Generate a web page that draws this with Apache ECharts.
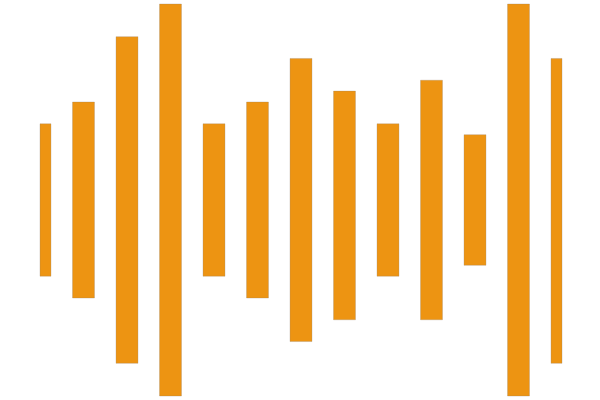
<!DOCTYPE html>
<html>
<head>
<meta charset="utf-8">
<script src="https://cdn.jsdelivr.net/npm/echarts@6/dist/echarts.min.js"></script>
<style>html,body{margin:0;padding:0;background:#fff}#c{width:600px;height:400px}</style>
</head>
<body>
<div id="c"></div>
<script>
const categories = ['1','2','3','4','5','6','7','8','9','10','11','12','13'];
const lows  = [11, 9, 3, 0, 11, 9, 5, 7, 11, 7, 12, 0, 3];
const highs = [25, 27, 33, 36, 25, 27, 31, 28, 25, 29, 24, 36, 31];

const rows = categories.map((c, i) => [i, lows[i], highs[i]]);
const chart = echarts.init(document.getElementById('c'));
chart.setOption({
  animation: false,
  grid: { left: 40, right: 38, top: 4, bottom: 4 },
  xAxis: {
    type: 'category', data: categories, boundaryGap: false,
    axisLine: { show: false }, axisTick: { show: false }, axisLabel: { show: false }, splitLine: { show: false }
  },
  yAxis: {
    type: 'value', min: 0, max: 36,
    axisLine: { show: false }, axisTick: { show: false }, axisLabel: { show: false }, splitLine: { show: false }
  },
  series: [{
    type: 'custom',
    data: rows,
    encode: { x: 0, y: [1, 2] },
    itemStyle: { color: '#ED9412', borderColor: 'rgba(150,130,110,0.6)', borderWidth: 0.5 },
    renderItem: function (params, api) {
      const lo = api.coord([api.value(0), api.value(1)]);
      const hi = api.coord([api.value(0), api.value(2)]);
      const w = api.size([1, 0])[0] * 0.505;
      const cs = params.coordSys;
      const shape = echarts.graphic.clipRectByRect(
        { x: lo[0] - w / 2, y: hi[1], width: w, height: lo[1] - hi[1] },
        { x: cs.x, y: cs.y, width: cs.width, height: cs.height }
      );
      return shape && { type: 'rect', shape: shape, style: api.style() };
    }
  }]
});
</script>
</body>
</html>
